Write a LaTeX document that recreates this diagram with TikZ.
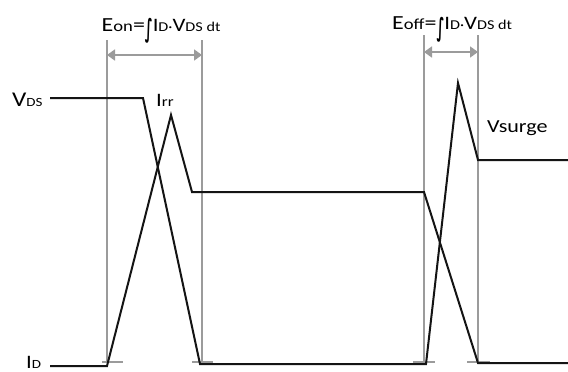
\documentclass[tikz,border=0pt]{standalone}
\usepackage{fontspec}
\setmainfont{Carlito}
\newfontfamily\symfont{DejaVu Sans}
\usetikzlibrary{arrows.meta}
\definecolor{guide}{RGB}{155,155,155}
\definecolor{wave}{RGB}{20,20,20}
\newcommand\fs[2]{{\fontsize{#1}{#1}\selectfont #2}}
\newcommand\stretchx[1]{\scalebox{1.2}[1]{#1}}
\newcommand\intsign{\raisebox{-6pt}{\resizebox*{6.5pt}{25pt}{\symfont\bfseries ∫}}}
\newcommand\energy[1]{\stretchx{\fs{20}{E}\fs{15.5}{#1}\fs{20}{=}\intsign\fs{19}{I}\fs{13.5}{D}\fs{13.5}{·}\fs{19}{V}\fs{13.5}{DS dt}}}
\begin{document}
\begin{tikzpicture}[x=1pt,y=-1pt,
  guideline/.style={guide,line width=1.3pt},
  tickmark/.style={guide,line width=1.3pt},
  waveline/.style={wave,line width=2pt,line join=miter},
  dimarrow/.style={guide,line width=1.8pt,{Triangle[length=8pt,width=11pt]}-{Triangle[length=8pt,width=11pt]}},
  lbl/.style={inner sep=0pt,anchor=base west,text=black}]
\useasboundingbox[fill=white] (0,0) rectangle (568,372);
% guide lines
\coordinate (g1t) at (107,40);  \coordinate (g1b) at (107,362);
\coordinate (g2t) at (202,40);  \coordinate (g2b) at (202,362);
\coordinate (g3t) at (424,35);  \coordinate (g3b) at (424,362);
\coordinate (g4t) at (478,35);  \coordinate (g4b) at (478,362);
\draw[guideline] (g1t) -- (g1b);
\draw[guideline] (g2t) -- (g2b);
\draw[guideline] (g3t) -- (g3b);
\draw[guideline] (g4t) -- (g4b);
% ticks
\coordinate (t1a) at (102,362); \coordinate (t1b) at (123,362);
\coordinate (t2a) at (192,362); \coordinate (t2b) at (213,362);
\coordinate (t3a) at (413,362); \coordinate (t3b) at (435,362);
\coordinate (t4a) at (467,362); \coordinate (t4b) at (490,362);
\draw[tickmark] (t1a) -- (t1b);
\draw[tickmark] (t2a) -- (t2b);
\draw[tickmark] (t3a) -- (t3b);
\draw[tickmark] (t4a) -- (t4b);
% dimension arrows
\coordinate (a1) at (107,55); \coordinate (a2) at (202,55);
\coordinate (a3) at (424,52); \coordinate (a4) at (478,52);
\draw[dimarrow] (a1) -- (a2);
\draw[dimarrow] (a3) -- (a4);
% VDS waveform
\coordinate (v0) at (50,98);   \coordinate (v1) at (143,98);
\coordinate (v2) at (200,364); \coordinate (v3) at (426,364);
\coordinate (v4) at (458,83);  \coordinate (v5) at (478,160);
\coordinate (v6) at (568,160);
\draw[waveline] (v0) -- (v1) -- (v2) -- (v3) -- (v4) -- (v5) -- (v6);
% ID waveform
\coordinate (i0) at (50,366);  \coordinate (i1) at (107,366);
\coordinate (i2) at (171,115); \coordinate (i3) at (192,192);
\coordinate (i4) at (424,192); \coordinate (i5) at (478,363);
\coordinate (i6) at (568,363);
\draw[waveline] (i0) -- (i1) -- (i2) -- (i3) -- (i4) -- (i5) -- (i6);
% labels
\node[lbl] (vds) at (12,106) {\stretchx{\fs{21}{V}\fs{12.5}{DS}}};
\node[lbl] (id) at (26,368) {\stretchx{\fs{19}{I}\fs{12.5}{D}}};
\node[lbl] (irr) at (156,106) {\stretchx{\fs{19}{I}\fs{14}{rr}}};
\node[lbl] (vsurge) at (487,132) {\stretchx{\fs{18.4}{Vsurge}}};
\node[lbl] (eon) at (101.5,31) {\energy{on}};
\node[lbl] (eoff) at (392,30) {\energy{off}};
\end{tikzpicture}
\end{document}
